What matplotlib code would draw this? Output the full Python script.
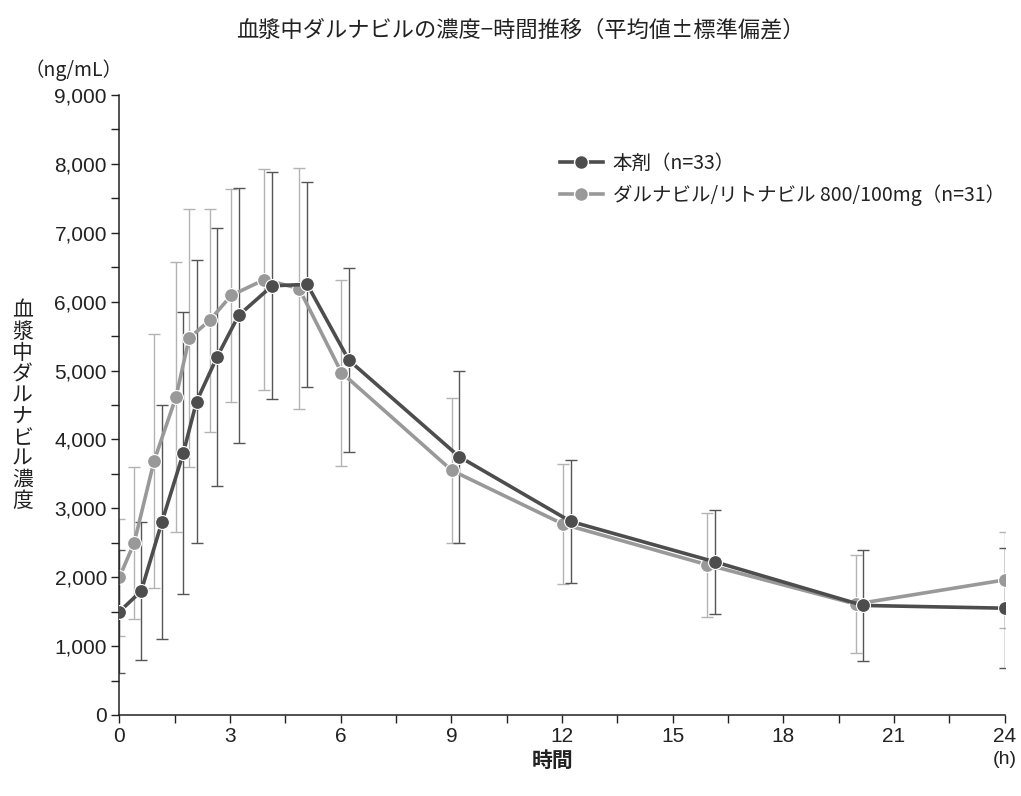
import matplotlib
matplotlib.use("Agg")
import matplotlib.pyplot as plt
from matplotlib.ticker import MultipleLocator, FuncFormatter
from matplotlib.lines import Line2D

plt.rcParams['font.family'] = ['Liberation Sans', 'Noto Sans CJK JP', 'DejaVu Sans']
JP = ['Noto Sans CJK JP', 'DejaVu Sans']

# 本剤 (n=33)
hours_a = [0, 0.59, 1.15, 1.73, 2.09, 2.65, 3.23, 4.14, 5.09, 6.22, 9.21, 12.23, 16.16, 20.16, 24]
conc_a = [1500, 1800, 2800, 3800, 4550, 5200, 5800, 6230, 6250, 5150, 3750, 2810, 2220, 1590, 1550]
sd_a = [890, 1000, 1700, 2050, 2060, 1870, 1850, 1650, 1490, 1340, 1250, 890, 755, 800, 870]

# ダルナビル/リトナビル 800/100mg (n=31)
hours_b = [0, 0.40, 0.94, 1.53, 1.89, 2.45, 3.03, 3.93, 4.87, 6.02, 9.01, 12.03, 15.94, 19.96, 24]
conc_b = [2000, 2500, 3690, 4610, 5470, 5730, 6090, 6320, 6190, 4970, 3550, 2770, 2180, 1610, 1960]
sd_b = [850, 1100, 1840, 1960, 1870, 1620, 1550, 1610, 1750, 1350, 1050, 870, 755, 705, 700]

labels = ["本剤（n=33）", "ダルナビル/リトナビル 800/100mg（n=31）"]
dark = "#4d4d4d"
light = "#999999"

fig = plt.figure(figsize=(10.21, 7.96), dpi=100)
ax = fig.add_axes([0.117, 0.1018, 0.867, 0.7789])

# error bars first, lines on top
ax.errorbar(hours_b, conc_b, yerr=sd_b, fmt='none', ecolor="#b3b3b3", elinewidth=1.0,
            capsize=4, capthick=1.0, zorder=1)
ax.errorbar(hours_a, conc_a, yerr=sd_a, fmt='none', ecolor="#555555", elinewidth=1.0,
            capsize=4, capthick=1.0, zorder=1)
ax.plot(hours_b, conc_b, color=light, lw=2.6, marker='o', ms=10,
        markeredgecolor='white', markeredgewidth=0.8, zorder=2)
ax.plot(hours_a, conc_a, color=dark, lw=2.6, marker='o', ms=10,
        markeredgecolor='white', markeredgewidth=0.8, zorder=3)

ax.set_xlim(0, 24)
ax.set_ylim(0, 9000)
ax.xaxis.set_major_locator(MultipleLocator(3))
ax.xaxis.set_minor_locator(MultipleLocator(1.5))
ax.yaxis.set_major_locator(MultipleLocator(1000))
ax.yaxis.set_minor_locator(MultipleLocator(500))
ax.yaxis.set_major_formatter(FuncFormatter(lambda v, p: f"{int(v):,}"))
ax.tick_params(which='both', direction='out', length=6, width=1, color='#222222')
ax.tick_params(which='major', labelsize=15, colors='#222222', pad=3)
for s in ['top', 'right']:
    ax.spines[s].set_visible(False)
for s in ['left', 'bottom']:
    ax.spines[s].set_color('#222222')
    ax.spines[s].set_linewidth(1.1)

# legend
handles = [Line2D([], [], color=dark, lw=2.6, marker='o', ms=10, markeredgecolor='white'),
           Line2D([], [], color=light, lw=2.6, marker='o', ms=10, markeredgecolor='white')]
leg = ax.legend(handles, labels, loc='upper left', bbox_to_anchor=(0.478, 0.935),
                frameon=False, handlelength=2.2, handletextpad=0.5, labelspacing=0.55,
                prop={'family': JP, 'size': 14})
for t in leg.get_texts():
    t.set_color('#222222')

fig.text(0.51, 0.962, "血漿中ダルナビルの濃度−時間推移（平均値±標準偏差）",
         ha='center', va='center', fontsize=16, family=JP, color='#222222')
fig.text(0.072, 0.912, "（ng/mL）", ha='center', va='center', fontsize=14,
         family=JP, color='#222222')
fig.text(0.022, 0.49, "\n".join("血漿中ダルナビル濃度"), ha='center', va='center',
         fontsize=15, family=JP, color='#222222', linespacing=0.95)
fig.text(0.541, 0.044, "時間", ha='center', va='center', fontsize=15,
         family=JP, color='#222222', fontweight='bold')
fig.text(0.984, 0.046, "(h)", ha='center', va='center', fontsize=14, color='#222222')

fig.savefig("out.png", dpi=100)
